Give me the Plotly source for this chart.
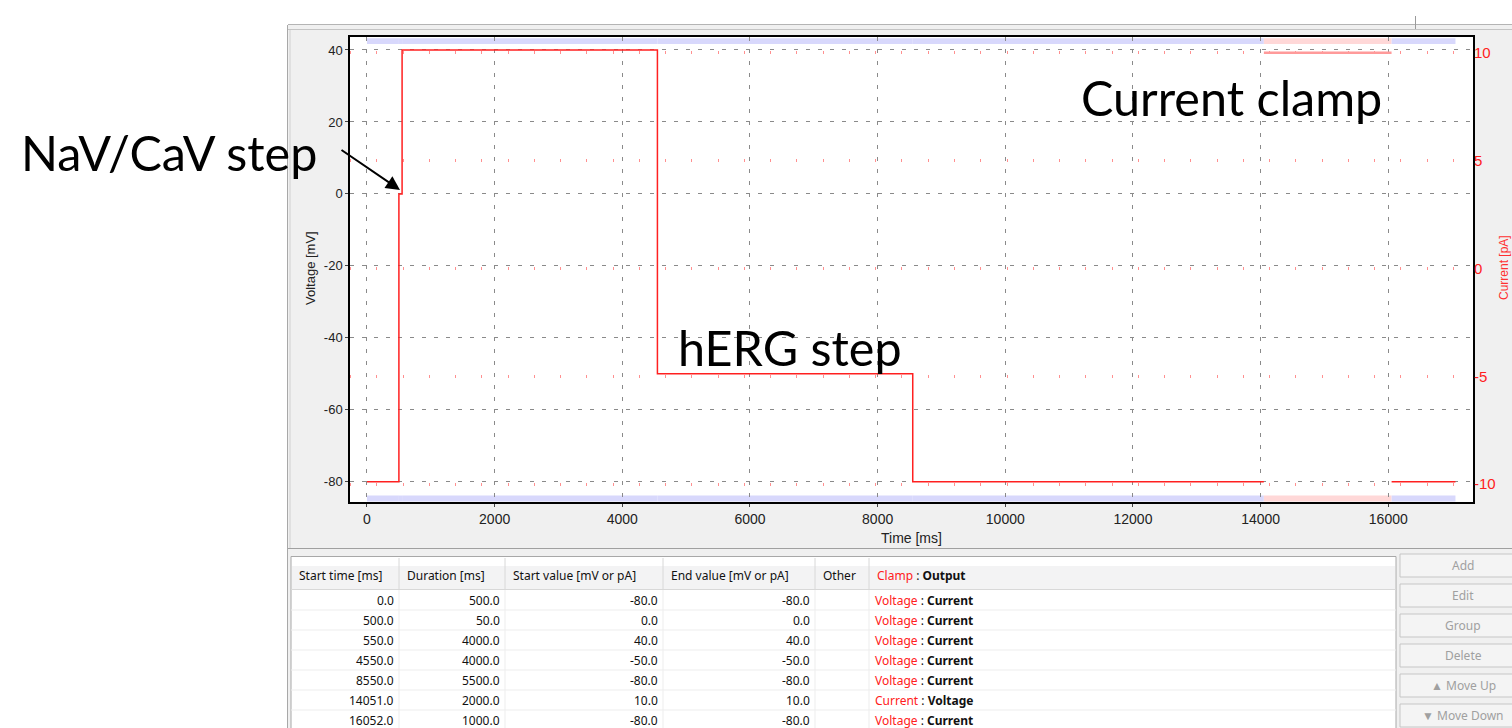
import plotly.graph_objects as go

W, H = 1512, 728

# ---------------- data (protocol table) ----------------
start_time = [0.0, 500.0, 550.0, 4550.0, 8550.0, 14051.0, 16052.0]
duration = [500.0, 50.0, 4000.0, 4000.0, 5500.0, 2000.0, 1000.0]
start_value = [-80.0, 0.0, 40.0, -50.0, -80.0, 10.0, -80.0]
end_value = [-80.0, 0.0, 40.0, -50.0, -80.0, 10.0, -80.0]
clamp = ["Voltage", "Voltage", "Voltage", "Voltage", "Voltage", "Current", "Voltage"]
output = ["Current", "Current", "Current", "Current", "Current", "Voltage", "Current"]

col_headers = ["Start time [ms]", "Duration [ms]", "Start value [mV or pA]",
               "End value [mV or pA]", "Other"]
buttons = ["Add", "Edit", "Group", "Delete", "\u25B2 Move Up", "\u25BC Move Down"]

x_ticks = [0, 2000, 4000, 6000, 8000, 10000, 12000, 14000, 16000]
v_ticks = [-80, -60, -40, -20, 0, 20, 40]
i_ticks = [-10, -5, 0, 5, 10]


def px(x):
    return x / W


def py(y):
    return 1 - y / H


def A(text, x, y, xanchor="center", yanchor="middle", **kw):
    d = dict(text=text, x=px(x), y=py(y), xref="paper", yref="paper",
             xanchor=xanchor, yanchor=yanchor, showarrow=False)
    d.update(kw)
    return d


# ---------------- build traces from protocol ----------------
vx, vy, ix, iy = [], [], [], []
prev = None
for s, d, a, b, c in zip(start_time, duration, start_value, end_value, clamp):
    if c == "Voltage":
        if prev == "Current" and vx:
            vx.append(None); vy.append(None)
        vx += [s, s + d]; vy += [a, b]
    else:
        if prev == "Voltage" and ix:
            ix.append(None); iy.append(None)
        ix += [s, s + d]; iy += [a, b]
    prev = c

fig = go.Figure()
fig.add_trace(go.Scatter(x=vx, y=vy, mode="lines", line=dict(color="#ff2020", width=1.5),
                         hoverinfo="skip", showlegend=False))
fig.add_trace(go.Scatter(x=ix, y=iy, mode="lines", yaxis="y2",
                         line=dict(color="#ff9a9a", width=2.5),
                         hoverinfo="skip", showlegend=False))

shapes = []
# window / panel background
shapes.append(dict(type="rect", xref="paper", yref="paper", x0=px(288), x1=px(1530),
                   y0=py(25), y1=py(740), fillcolor="#f0f0f0", line=dict(width=0), layer="below"))
shapes.append(dict(type="line", xref="paper", yref="paper", x0=px(288), x1=px(1530),
                   y0=py(24.5), y1=py(24.5), line=dict(color="#b4b4b4", width=1), layer="below"))
shapes.append(dict(type="line", xref="paper", yref="paper", x0=px(288), x1=px(1530),
                   y0=py(29.5), y1=py(29.5), line=dict(color="#c4c4c4", width=1), layer="below"))
shapes.append(dict(type="line", xref="paper", yref="paper", x0=px(287.5), x1=px(287.5),
                   y0=py(25), y1=py(740), line=dict(color="#a8a8a8", width=1), layer="below"))
shapes.append(dict(type="line", xref="paper", yref="paper", x0=px(290), x1=px(290),
                   y0=py(30), y1=py(548), line=dict(color="#d0d0d0", width=1), layer="below"))
shapes.append(dict(type="line", xref="paper", yref="paper", x0=px(1415.5), x1=px(1415.5),
                   y0=py(16), y1=py(29), line=dict(color="#9a9a9a", width=1), layer="below"))
shapes.append(dict(type="line", xref="paper", yref="paper", x0=px(288), x1=px(1530),
                   y0=py(548.5), y1=py(548.5), line=dict(color="#a0a0a0", width=1), layer="below"))
# plot area white
shapes.append(dict(type="rect", xref="paper", yref="paper", x0=px(350), x1=px(1473),
                   y0=py(37), y1=py(502), fillcolor="white", line=dict(width=0), layer="below"))

# protocol bars (voltage = lavender, current = pink)
bar_col = {"Voltage": "#d8d8fc", "Current": "#ffd8d8"}
for s, d, c in zip(start_time, duration, clamp):
    for (t0, t1) in [(38.3, 44), (495.5, 501.5)]:
        shapes.append(dict(type="rect", xref="x", yref="paper", x0=s, x1=s + d,
                           y0=py(t1), y1=py(t0), fillcolor=bar_col[c],
                           line=dict(width=0), layer="below"))

# table
tx0, tx1 = 291, 1396
col_edges = [291, 399, 505, 663, 815, 869, 1396]
shapes.append(dict(type="rect", xref="paper", yref="paper", x0=px(tx0), x1=px(tx1),
                   y0=py(740), y1=py(556.5), fillcolor="white",
                   line=dict(color="#a8a8a8", width=1), layer="below"))
shapes.append(dict(type="rect", xref="paper", yref="paper", x0=px(tx0 + 1), x1=px(tx1 - 1),
                   y0=py(589), y1=py(566), fillcolor="#f3f3f4", line=dict(width=0), layer="below"))
shapes.append(dict(type="line", xref="paper", yref="paper", x0=px(tx0), x1=px(tx1),
                   y0=py(589.5), y1=py(589.5), line=dict(color="#d8d8d8", width=1), layer="below"))
for e in col_edges[1:-1]:
    shapes.append(dict(type="line", xref="paper", yref="paper", x0=px(e), x1=px(e),
                       y0=py(558), y1=py(589), line=dict(color="#d8d8d8", width=1), layer="below"))
    shapes.append(dict(type="line", xref="paper", yref="paper", x0=px(e), x1=px(e),
                       y0=py(590), y1=py(740), line=dict(color="#ededed", width=1), layer="below"))
for r in range(len(start_time)):
    yl = 610 + 20 * r
    shapes.append(dict(type="line", xref="paper", yref="paper", x0=px(tx0), x1=px(tx1),
                       y0=py(yl), y1=py(yl), line=dict(color="#ededed", width=1), layer="below"))

# buttons
for k, b in enumerate(buttons):
    yt = 554 + 30 * k
    shapes.append(dict(type="rect", xref="paper", yref="paper", x0=px(1400), x1=px(1530),
                       y0=py(yt + 23), y1=py(yt), fillcolor="#f4f4f4",
                       line=dict(color="#c6c6c6", width=1), layer="below"))

ann = []
# axis titles
ann.append(A("Voltage [mV]", 310, 268, textangle=-90,
             font=dict(family="Liberation Sans", size=13, color="#222")))
ann.append(A("Time [ms]", 911, 538, font=dict(family="Liberation Sans", size=14, color="#222")))
ann.append(A("Current [pA]", 1504, 268, textangle=-90,
             font=dict(family="Liberation Sans", size=12, color="#ff3030")))
# big labels
big = dict(family="Lato", size=48.5, color="black")
ann.append(A("NaV/CaV step", 168.5, 152, font=big))
ann.append(A("Current clamp", 1231.5, 97, font=big))
ann.append(A("hERG step", 789.5, 347, font=big))
ann.append(dict(text="", x=px(400), y=py(190), xref="paper", yref="paper", showarrow=True,
                ax=-60, ay=-41, arrowhead=2, arrowsize=1.4, arrowwidth=2, arrowcolor="black"))

# table header text
tf = dict(family="Noto Sans", size=12, color="#111")
for h, e in zip(col_headers, col_edges[:-1]):
    ann.append(A(h, e + 6, 575, xanchor="left", font=tf))
ann.append(A("<span style='color:#ff2020'>Clamp</span> : <b>Output</b>",
             col_edges[5] + 6, 575, xanchor="left", font=tf))
# table rows
for r in range(len(start_time)):
    yc = 600 + 20 * r
    vals = [start_time[r], duration[r], start_value[r], end_value[r]]
    for j, v in enumerate(vals):
        ann.append(A(f"{v:.1f}", col_edges[j + 1] - 3, yc, xanchor="right", font=tf))
    ann.append(A(f"<span style='color:#ff2020'>{clamp[r]}</span> : <b>{output[r]}</b>",
                 col_edges[5] + 4, yc, xanchor="left", font=tf))
# button labels
for k, b in enumerate(buttons):
    ann.append(A(b, 1463, 565.5 + 30 * k,
                 font=dict(family="Noto Sans", size=12, color="#a0a0a0")))

fig.update_layout(
    width=W, height=H, autosize=False,
    margin=dict(l=0, r=0, t=0, b=0),
    paper_bgcolor="white", plot_bgcolor="rgba(0,0,0,0)",
    showlegend=False,
    shapes=shapes, annotations=ann,
    xaxis=dict(domain=[px(350), px(1473)], range=[-266, 17327],
               tickvals=x_ticks, ticktext=[str(t) for t in x_ticks],
               showgrid=True, gridcolor="#8a8a8a", gridwidth=1, griddash="4px,8px",
               zeroline=False, showline=True, linecolor="black", linewidth=1.5, mirror=True,
               ticks="outside", ticklen=3, tickcolor="#444",
               tickfont=dict(family="Liberation Sans", size=14, color="#222")),
    yaxis=dict(domain=[py(502), py(37)], range=[-85.6, 43.6],
               tickvals=v_ticks, ticktext=[str(t) for t in v_ticks],
               showgrid=True, gridcolor="#8a8a8a", gridwidth=1, griddash="4px,8px",
               zeroline=False, showline=True, linecolor="black", linewidth=1.5, mirror=True,
               ticks="outside", ticklen=3, tickcolor="#444",
               tickfont=dict(family="Liberation Sans", size=13, color="#222")),
    yaxis2=dict(overlaying="y", side="right", range=[-10.83, 10.73],
                tickvals=i_ticks, ticktext=[str(t) for t in i_ticks],
                showgrid=True, gridcolor="#ff9090", gridwidth=3, griddash="1px,25.26px",
                zeroline=False, showline=False, ticks="",
                tickfont=dict(family="Liberation Sans", size=15, color="#ff2020")),
)

fig.write_html("out.html", config={"displayModeBar": False},
               post_script="document.body.style.margin='0';")
